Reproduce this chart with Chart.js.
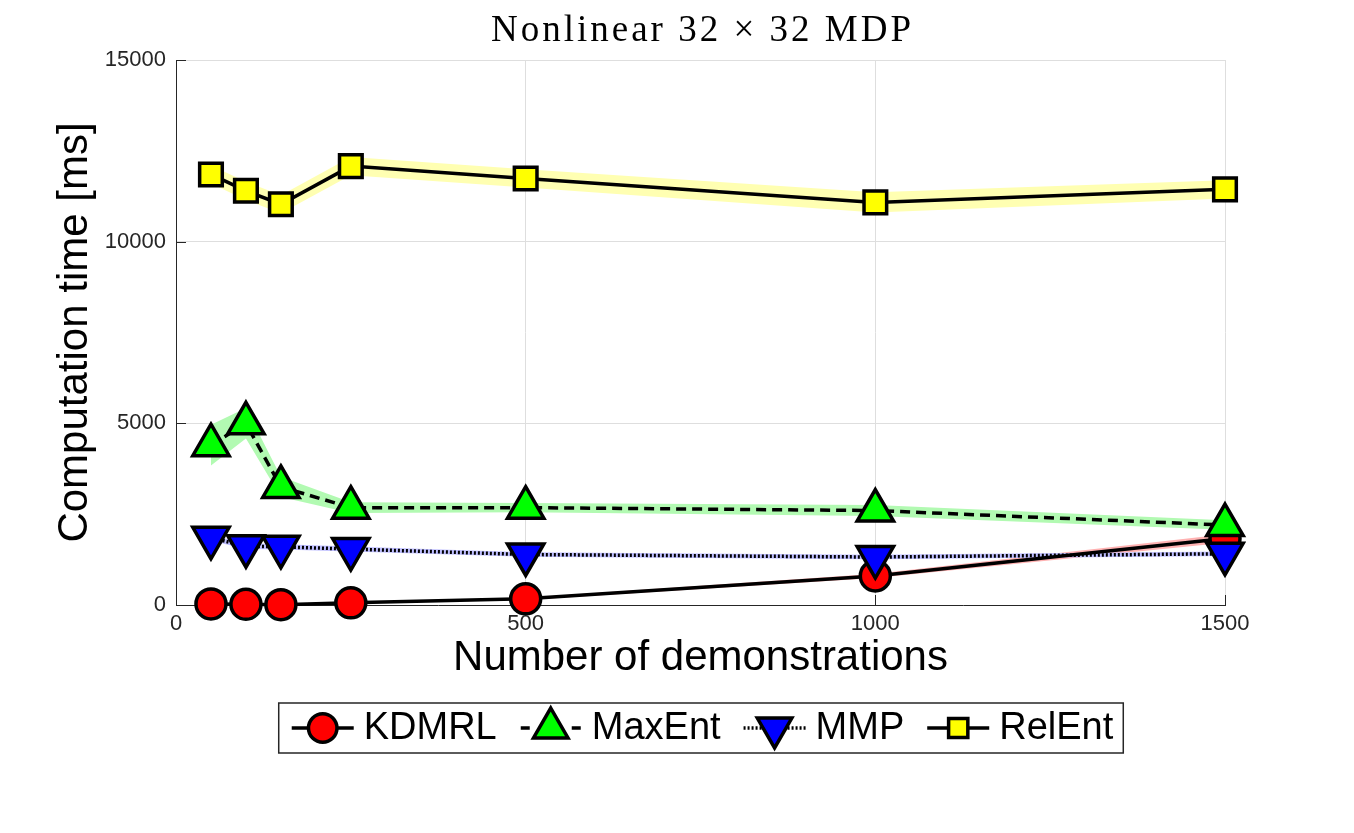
<!DOCTYPE html>
<html>
<head>
<meta charset="utf-8">
<script src="https://cdn.jsdelivr.net/npm/chart.js@4.4.1/dist/chart.umd.min.js"></script>
<style>
html,body{margin:0;padding:0;background:#fff;}
#wrap{width:1354px;height:833px;}
</style>
</head>
<body>
<div id="wrap"><canvas id="c" width="1354" height="833"></canvas></div>
<script>
// ---- data ----
const titleText = 'Nonlinear 32 \u00d7 32 MDP';
const xTitle = 'Number of demonstrations';
const yTitle = 'Computation time [ms]';
const seriesNames = ['KDMRL', 'MaxEnt', 'MMP', 'RelEnt'];
const demos = [50, 100, 150, 250, 500, 1000, 1500];
const kdmrl = [30, 20, 10, 60, 170, 800, 1830];
const kdmrlStd = [15, 15, 15, 20, 30, 60, 120];
const maxent = [4400, 5000, 3250, 2680, 2680, 2600, 2200];
const maxentStd = [560, 420, 280, 150, 130, 150, 130];
const mmp = [1850, 1620, 1600, 1540, 1390, 1320, 1410];
const mmpStd = [80, 80, 70, 70, 60, 60, 60];
const relent = [11850, 11400, 11030, 12080, 11740, 11080, 11440];
const relentStd = [250, 250, 250, 250, 250, 280, 250];
const xTicks = [0, 500, 1000, 1500];
const yTicks = [0, 5000, 10000, 15000];

// ---- styles ----
const LW = 3.5;
const styles = [
  {band: 'rgb(255,178,178)', marker: 'circle', fill: '#ff0000', dash: [], radius: 15, rot: 0},
  {band: 'rgb(178,250,178)', marker: 'triangle', fill: '#00ff00', dash: [10, 6], radius: 21, rot: 0},
  {band: 'rgb(190,190,255)', marker: 'triangle', fill: '#0000ff', dash: [2, 2], radius: 21, rot: 180},
  {band: 'rgb(255,255,178)', marker: 'rect', fill: '#ffff00', dash: [], radius: 16, rot: 0}
];
const means = [kdmrl, maxent, mmp, relent];
const stds = [kdmrlStd, maxentStd, mmpStd, relentStd];

function pts(arr) { return demos.map((d, i) => ({x: d, y: arr[i]})); }

const datasets = [];
// main lines: index 0 is drawn on top, so list RelEnt first
for (let s = 3; s >= 0; s--) {
  const st = styles[s];
  datasets.push({
    label: seriesNames[s],
    data: pts(means[s]),
    borderColor: '#000',
    borderWidth: LW,
    borderDash: st.dash,
    backgroundColor: st.fill,
    pointStyle: st.marker,
    pointRotation: st.rot,
    pointRadius: st.radius,
    pointHoverRadius: st.radius,
    pointBorderWidth: LW,
    pointBorderColor: '#000',
    pointBackgroundColor: st.fill,
    fill: false,
    tension: 0,
    clip: false
  });
}
// bands (drawn first)
for (let s = 3; s >= 0; s--) {
  const st = styles[s];
  datasets.push({
    label: seriesNames[s] + ' upper',
    data: pts(means[s].map((m, i) => m + stds[s][i])),
    borderWidth: 0, pointRadius: 0, pointHoverRadius: 0, fill: false, tension: 0,
    borderColor: 'rgba(0,0,0,0)'
  });
  datasets.push({
    label: seriesNames[s] + ' lower',
    data: pts(means[s].map((m, i) => m - stds[s][i])),
    borderWidth: 0, pointRadius: 0, pointHoverRadius: 0, tension: 0,
    borderColor: 'rgba(0,0,0,0)',
    backgroundColor: st.band,
    fill: '-1'
  });
}

function drawMarker(ctx, st, x, y, scale) {
  ctx.save();
  ctx.fillStyle = st.fill;
  ctx.strokeStyle = '#000';
  ctx.lineWidth = LW;
  ctx.setLineDash([]);
  ctx.lineJoin = 'miter';
  ctx.beginPath();
  const r = st.radius * scale;
  if (st.marker === 'circle') {
    ctx.arc(x, y, r, 0, Math.PI * 2);
  } else if (st.marker === 'triangle') {
    const base = st.rot === 180 ? Math.PI / 2 : -Math.PI / 2;
    for (let k = 0; k < 3; k++) {
      const ang = base + k * 2 * Math.PI / 3;
      const px = x + r * Math.cos(ang), py = y + r * Math.sin(ang);
      if (k === 0) ctx.moveTo(px, py); else ctx.lineTo(px, py);
    }
    ctx.closePath();
  } else {
    const h = r * Math.SQRT1_2;
    ctx.rect(x - h, y - h, 2 * h, 2 * h);
  }
  ctx.fill();
  ctx.stroke();
  ctx.restore();
}

const decor = {
  id: 'decor',
  beforeDatasetsDraw(chart) {
    const ctx = chart.ctx, a = chart.chartArea;
    const xs = chart.scales.x, ys = chart.scales.y;
    ctx.save();
    ctx.strokeStyle = '#262626';
    ctx.lineWidth = 1;
    xTicks.forEach(v => {
      const px = Math.round(xs.getPixelForValue(v)) + 0.5;
      ctx.beginPath(); ctx.moveTo(px, a.bottom); ctx.lineTo(px, a.bottom - 10); ctx.stroke();
    });
    yTicks.forEach(v => {
      const py = Math.round(ys.getPixelForValue(v)) + 0.5;
      ctx.beginPath(); ctx.moveTo(a.left, py); ctx.lineTo(a.left + 10, py); ctx.stroke();
    });
    ctx.restore();
  },
  afterDraw(chart) {
    const ctx = chart.ctx, a = chart.chartArea;
    ctx.save();
    // title
    ctx.fillStyle = '#000';
    ctx.font = '37px "Liberation Serif", "Times New Roman", serif';
    if ('letterSpacing' in ctx) ctx.letterSpacing = '3px';
    ctx.textAlign = 'center';
    ctx.textBaseline = 'middle';
    ctx.fillText(titleText, (a.left + a.right) / 2 + 2, 31);
    if ('letterSpacing' in ctx) ctx.letterSpacing = '0px';
    // legend
    ctx.font = '38px "Liberation Sans", Arial, sans-serif';
    const iconW = 62, gapT = 10, gapI = 23, padL = 13, padR = 10;
    const widths = seriesNames.map(n => ctx.measureText(n).width);
    const rowW = seriesNames.length * (iconW + gapT) + widths.reduce((s, w) => s + w, 0) + (seriesNames.length - 1) * gapI;
    const boxW = rowW + padL + padR;
    const cx = 701, cy = 728, boxTop = 703, boxH = 50;
    const boxL = cx - boxW / 2;
    ctx.fillStyle = '#fff';
    ctx.fillRect(boxL, boxTop, boxW, boxH);
    ctx.strokeStyle = '#262626';
    ctx.lineWidth = 1.5;
    ctx.strokeRect(boxL, boxTop, boxW, boxH);
    let x = boxL + padL;
    seriesNames.forEach((n, i) => {
      const st = styles[i];
      ctx.save();
      ctx.strokeStyle = '#000';
      ctx.lineWidth = LW;
      if (st.dash.length && st.dash[0] > 4) {
        ctx.beginPath();
        ctx.moveTo(x + 1, cy); ctx.lineTo(x + 10, cy);
        ctx.moveTo(x + iconW - 10, cy); ctx.lineTo(x + iconW - 1, cy);
        ctx.stroke();
      } else {
        ctx.setLineDash(st.dash);
        ctx.beginPath(); ctx.moveTo(x, cy); ctx.lineTo(x + iconW, cy); ctx.stroke();
      }
      ctx.restore();
      drawMarker(ctx, st, x + iconW / 2, cy, st.marker === 'rect' ? 0.85 : 0.95);
      x += iconW + gapT;
      ctx.fillStyle = '#000';
      ctx.textAlign = 'left';
      ctx.textBaseline = 'middle';
      ctx.fillText(n, x, cy + 1);
      x += widths[i] + gapI;
    });
    ctx.restore();
  }
};

const tickFont = {family: '"Liberation Sans", Arial, sans-serif', size: 22};
const titleFont = {family: '"Liberation Sans", Arial, sans-serif', size: 42, lineHeight: 1};
const plainNum = v => String(v);

new Chart(document.getElementById('c'), {
  type: 'line',
  data: {datasets},
  options: {
    responsive: false,
    animation: false,
    devicePixelRatio: 1,
    layout: {padding: {top: 60, right: 129, left: 0, bottom: 128}},
    plugins: {
      legend: {display: false},
      title: {display: false},
      tooltip: {enabled: false},
      filler: {propagate: false}
    },
    scales: {
      x: {
        type: 'linear',
        min: 0, max: 1500,
        afterBuildTicks: s => { s.ticks = xTicks.map(v => ({value: v})); },
        afterFit: s => { s.height = 100; },
        grid: {color: '#dedede', lineWidth: 1, drawTicks: false},
        border: {display: true, color: '#262626', width: 1},
        ticks: {font: tickFont, color: '#262626', padding: 6, maxRotation: 0, autoSkip: false, callback: plainNum},
        title: {display: true, text: xTitle, font: titleFont, color: '#000', padding: {top: 0, bottom: 26}}
      },
      y: {
        type: 'linear',
        min: 0, max: 15000,
        afterBuildTicks: s => { s.ticks = yTicks.map(v => ({value: v})); },
        afterFit: s => { s.width = 176; },
        grid: {color: '#dedede', lineWidth: 1, drawTicks: false},
        border: {display: true, color: '#262626', width: 1},
        ticks: {font: tickFont, color: '#262626', padding: 10, autoSkip: false, callback: plainNum},
        title: {display: true, text: yTitle, font: titleFont, color: '#000', padding: {top: 54, bottom: 0}}
      }
    }
  },
  plugins: [decor]
});
</script>
</body>
</html>
